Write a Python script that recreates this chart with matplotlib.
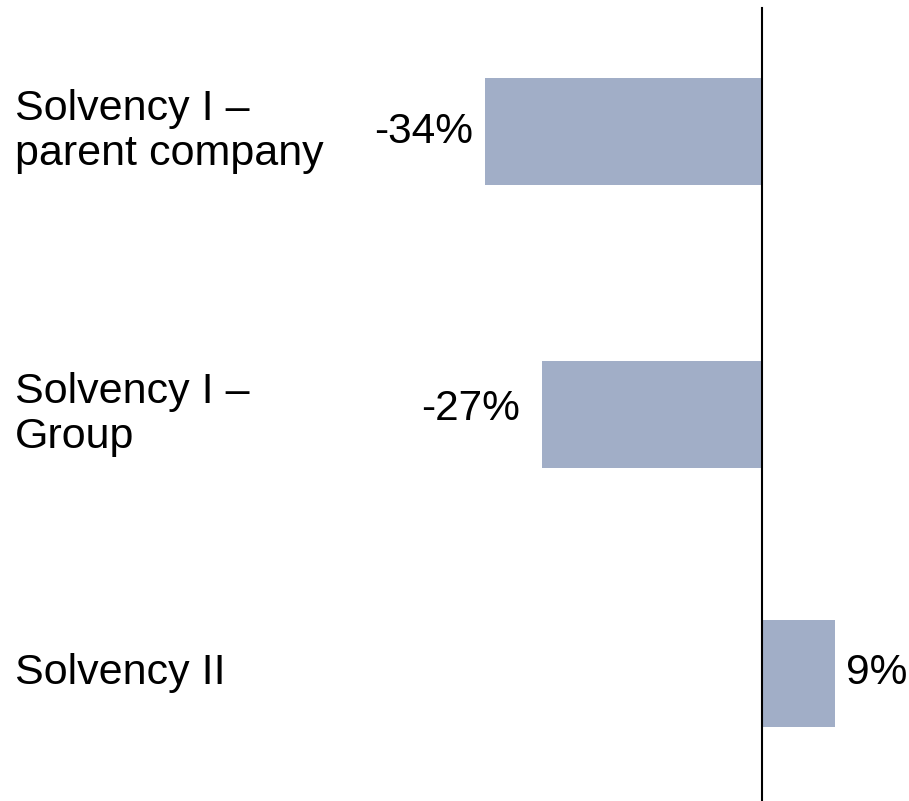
import matplotlib.pyplot as plt
import matplotlib.transforms as mtransforms

# data
categories = ['Solvency I –\nparent company', 'Solvency I –\nGroup', 'Solvency II']
changes = [-34, -27, 9]
value_labels = ['-34%', '-27%', '9%']

# layout: bar centres (rows are not evenly spaced) and label nudges in points
row_pos = [0, 1, 1.914]
label_dx = [-9, -16, 8]
label_dy = [0, 4, 0]

bar_color = '#A1AEC7'

plt.rcParams['font.family'] = ['Liberation Sans', 'DejaVu Sans']

fig = plt.figure(figsize=(9.09, 8.01), dpi=100)
ax = fig.add_axes([0, 0, 1, 1])

ax.barh(row_pos, changes, height=0.378, color=bar_color, zorder=2)

# zero line
ax.axvline(0, ymin=0.001, ymax=0.99, color='black', lw=1.5, zorder=3)

ax.set_xlim(-93.7, 18.1)
ax.set_ylim(2.366, -0.465)
ax.axis('off')

# value labels next to the bar ends
for y, v, txt, dx, dy in zip(row_pos, changes, value_labels, label_dx, label_dy):
    ax.annotate(txt, xy=(v, y), xytext=(dx, dy), textcoords='offset points',
                ha='right' if v < 0 else 'left', va='center', fontsize=30.5)

# category names on the left
trans = mtransforms.blended_transform_factory(ax.transAxes, ax.transData)
for y, cat in zip(row_pos, categories):
    ax.text(15 / 909, y, cat, transform=trans, ha='left', va='center',
            fontsize=31, linespacing=1.15)

fig.savefig('out.png', dpi=100)
